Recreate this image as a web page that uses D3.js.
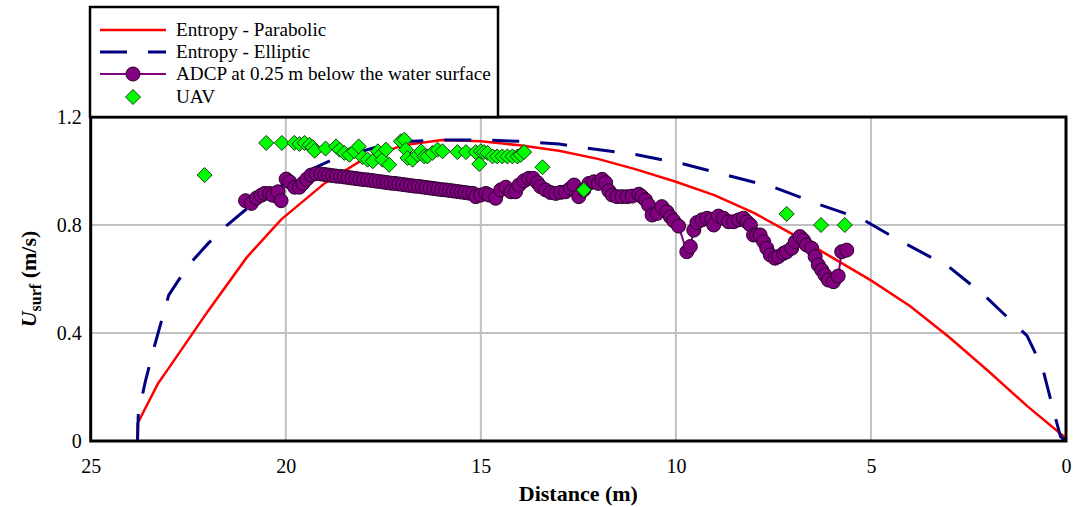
<!DOCTYPE html>
<html>
<head>
<meta charset="utf-8">
<script src="https://cdn.jsdelivr.net/npm/d3@7"></script>
<style>
  body { margin: 0; background: #fff; }
  text { font-family: "Liberation Serif", "Times New Roman", serif; fill: #000; }
</style>
</head>
<body>
<svg width="1087" height="507"></svg>
<script>
const width = 1087;
const height = 507;

// x ticks (distance, m) and y ticks (velocity, m/s)
const xTicks = [25, 20, 15, 10, 5, 0];
const yTicks = [0, 0.4, 0.8, 1.2];

// entropy model, parabolic  [distance, velocity]
const parabolic = [
    [23.8, 0], [23.8, 0.065], [23.27, 0.214], [23, 0.27], [22, 0.48], [21, 0.68],
    [20.12, 0.82], [19, 0.955], [18, 1.045], [17, 1.095], [16, 1.115], [15, 1.11],
    [14, 1.095], [13, 1.075], [12, 1.045], [11, 1.005], [10, 0.96], [9, 0.91],
    [8, 0.845], [7, 0.765], [6, 0.68], [5, 0.595], [4, 0.5], [3, 0.385],
    [2, 0.26], [1, 0.13], [0, 0.01]
];

// entropy model, elliptic
const elliptic = [
    [23.8, 0], [23.78, 0.1], [23.6, 0.22], [23.35, 0.36], [23, 0.54], [22.5, 0.65],
    [22, 0.73], [21.5, 0.8], [21, 0.86], [20.5, 0.91], [20, 0.955], [19.44, 1.0],
    [18.83, 1.04], [18, 1.075], [17.5, 1.096], [17, 1.108], [16, 1.115], [15, 1.115],
    [14, 1.11], [13, 1.1], [12.3, 1.085], [11, 1.06], [9.8, 1.026], [8.7, 0.985],
    [7.5, 0.94], [6.3, 0.875], [5.2, 0.82], [4.3, 0.745], [3, 0.645], [2.1, 0.54],
    [1, 0.39], [0.6, 0.27], [0.29, 0.096], [0.14, 0.016], [0, 0]
];

// ADCP at 0.25 m below the water surface
const adcp = [
    [21.03, 0.89], [20.88, 0.88], [20.75, 0.9], [20.63, 0.91], [20.54, 0.917],
    [20.41, 0.917], [20.33, 0.91], [20.2, 0.923], [20.12, 0.89], [19.99, 0.97],
    [19.9, 0.96], [19.77, 0.94], [19.65, 0.94], [19.56, 0.954], [19.46, 0.97],
    [19.35, 0.985], [19.22, 0.99], [19.1, 0.989], [19.0, 0.987], [18.9, 0.985],
    [18.8, 0.983], [18.7, 0.981], [18.6, 0.98], [18.5, 0.978], [18.4, 0.976],
    [18.3, 0.974], [18.2, 0.972], [18.1, 0.97], [18.0, 0.968], [17.9, 0.967],
    [17.8, 0.965], [17.7, 0.963], [17.6, 0.961], [17.5, 0.959], [17.4, 0.957],
    [17.3, 0.955], [17.2, 0.954], [17.1, 0.952], [17.0, 0.95], [16.9, 0.948],
    [16.8, 0.946], [16.7, 0.944], [16.6, 0.943], [16.5, 0.941], [16.4, 0.939],
    [16.3, 0.937], [16.2, 0.935], [16.1, 0.933], [16.0, 0.931], [15.9, 0.93],
    [15.8, 0.928], [15.7, 0.926], [15.6, 0.924], [15.5, 0.922], [15.4, 0.92],
    [15.3, 0.918], [15.2, 0.917], [15.13, 0.905], [15.0, 0.911], [14.87, 0.917],
    [14.79, 0.911], [14.62, 0.899], [14.49, 0.93], [14.36, 0.94], [14.23, 0.923],
    [14.11, 0.923], [14.02, 0.948], [13.89, 0.964], [13.77, 0.973], [13.66, 0.973],
    [13.55, 0.957], [13.47, 0.942], [13.34, 0.93], [13.21, 0.92], [13.08, 0.917],
    [12.95, 0.921], [12.83, 0.923], [12.7, 0.936], [12.61, 0.948], [12.49, 0.905],
    [12.36, 0.93], [12.23, 0.954], [12.1, 0.96], [11.99, 0.954], [11.89, 0.969],
    [11.8, 0.957], [11.72, 0.927], [11.63, 0.911], [11.51, 0.905], [11.38, 0.905],
    [11.25, 0.905], [11.12, 0.907], [10.95, 0.914], [10.87, 0.905], [10.78, 0.893],
    [10.7, 0.874], [10.61, 0.837], [10.48, 0.843], [10.36, 0.868], [10.23, 0.849],
    [10.14, 0.83], [10.06, 0.816], [9.93, 0.796], [9.72, 0.701], [9.63, 0.72],
    [9.54, 0.781], [9.46, 0.809], [9.33, 0.819], [9.2, 0.825], [9.08, 0.821],
    [9.03, 0.8], [8.91, 0.833], [8.78, 0.825], [8.65, 0.812], [8.52, 0.812],
    [8.39, 0.819], [8.27, 0.825], [8.18, 0.812], [8.09, 0.8], [8.01, 0.763],
    [7.93, 0.763], [7.84, 0.763], [7.75, 0.738], [7.67, 0.714], [7.58, 0.689],
    [7.46, 0.677], [7.37, 0.683], [7.24, 0.695], [7.16, 0.701], [7.03, 0.714],
    [6.94, 0.738], [6.82, 0.757], [6.73, 0.744], [6.65, 0.726], [6.52, 0.714],
    [6.43, 0.683], [6.35, 0.652], [6.26, 0.633], [6.18, 0.615], [6.09, 0.596],
    [5.96, 0.59], [5.84, 0.611], [5.75, 0.701], [5.62, 0.707]
];

// UAV surface velocity
const uav = [
    [22.08, 0.985], [20.5, 1.104], [20.1, 1.104], [19.78, 1.104], [19.65, 1.1],
    [19.52, 1.104], [19.39, 1.097], [19.31, 1.088], [19.26, 1.075], [18.98, 1.083],
    [18.71, 1.091], [18.62, 1.079], [18.5, 1.067], [18.37, 1.06], [18.24, 1.073],
    [18.13, 1.091], [18.03, 1.051], [17.9, 1.042], [17.77, 1.036], [17.64, 1.073],
    [17.56, 1.06], [17.52, 1.042], [17.43, 1.079], [17.35, 1.023], [17.05, 1.11],
    [16.96, 1.116], [16.92, 1.079], [16.88, 1.048], [16.75, 1.042], [16.62, 1.06],
    [16.53, 1.073], [16.45, 1.054], [16.37, 1.054], [16.24, 1.067], [16.11, 1.079],
    [15.98, 1.073], [15.6, 1.07], [15.38, 1.07], [15.13, 1.07], [15.04, 1.026],
    [15.0, 1.073], [14.92, 1.07], [14.83, 1.067], [14.7, 1.054], [14.58, 1.054],
    [14.45, 1.054], [14.32, 1.054], [14.19, 1.054], [14.06, 1.054], [13.98, 1.06],
    [13.89, 1.07], [13.42, 1.014], [12.36, 0.93], [7.16, 0.841], [6.28, 0.8],
    [5.67, 0.8]
];

const legendItems = [
    "Entropy - Parabolic",
    "Entropy - Elliptic",
    "ADCP at 0.25 m below the water surface",
    "UAV"
];

const plot = { left: 90.7, right: 1066, top: 117, bottom: 441 };

const svg = d3.select("svg");

svg.append("rect")
    .attr("width", width)
    .attr("height", height)
    .attr("fill", "#fff");

// scales
const x = d3.scaleLinear()
    .domain([25, 0])
    .range([plot.left, plot.right]);

const y = d3.scaleLinear()
    .domain([0, 1.2])
    .range([plot.bottom, plot.top]);

// grid
svg.append("g")
    .selectAll("line")
    .data(xTicks.filter(d => d !== 25 && d !== 0))
    .join("line")
    .attr("x1", d => x(d)).attr("x2", d => x(d))
    .attr("y1", plot.top).attr("y2", plot.bottom)
    .attr("stroke", "#c0c0c0")
    .attr("stroke-width", 2);

svg.append("g")
    .selectAll("line")
    .data(yTicks.filter(d => d !== 0 && d !== 1.2))
    .join("line")
    .attr("x1", plot.left).attr("x2", plot.right)
    .attr("y1", d => y(d)).attr("y2", d => y(d))
    .attr("stroke", "#c0c0c0")
    .attr("stroke-width", 2);

// axes (labels only)
const xAxis = svg.append("g")
    .attr("transform", `translate(0, ${plot.bottom})`)
    .call(d3.axisBottom(x).tickValues(xTicks).tickSize(0).tickPadding(18).tickFormat(d3.format("d")));

const yAxis = svg.append("g")
    .attr("transform", `translate(${plot.left}, 0)`)
    .call(d3.axisLeft(y).tickValues(yTicks).tickSize(0).tickPadding(9).tickFormat(d => d === 0 ? "0" : d3.format(".1f")(d)));

[xAxis, yAxis].forEach(g => {
    g.select(".domain").remove();
    g.selectAll("text")
        .attr("font-family", "'Liberation Serif', 'Times New Roman', serif")
        .attr("font-size", 20)
        .attr("fill", "#000");
});

// model curves
const line = d3.line()
    .x(d => x(d[0]))
    .y(d => y(d[1]));

svg.append("path")
    .datum(parabolic)
    .attr("d", line)
    .attr("fill", "none")
    .attr("stroke", "#ff0000")
    .attr("stroke-width", 2.5);

svg.append("path")
    .datum(elliptic)
    .attr("d", line)
    .attr("fill", "none")
    .attr("stroke", "#000080")
    .attr("stroke-width", 3)
    .attr("stroke-dasharray", "27,21");

// ADCP
svg.append("path")
    .datum(adcp)
    .attr("d", line)
    .attr("fill", "none")
    .attr("stroke", "#800080")
    .attr("stroke-width", 2);

svg.append("g")
    .selectAll("circle")
    .data(adcp)
    .join("circle")
    .attr("cx", d => x(d[0]))
    .attr("cy", d => y(d[1]))
    .attr("r", 7)
    .attr("fill", "#800080")
    .attr("stroke", "#2a002a")
    .attr("stroke-width", 1);

// UAV diamonds
const diamond = "M0,-7.5L7.5,0L0,7.5L-7.5,0Z";

svg.append("g")
    .selectAll("path")
    .data(uav)
    .join("path")
    .attr("d", diamond)
    .attr("transform", d => `translate(${x(d[0])},${y(d[1])})`)
    .attr("fill", "#00ff00")
    .attr("stroke", "#1a3a1a")
    .attr("stroke-width", 1);

// frame
svg.append("rect")
    .attr("x", plot.left)
    .attr("y", plot.top)
    .attr("width", plot.right - plot.left)
    .attr("height", plot.bottom - plot.top)
    .attr("fill", "none")
    .attr("stroke", "#000")
    .attr("stroke-width", 3);

// axis titles
svg.append("text")
    .attr("x", (plot.left + plot.right) / 2)
    .attr("y", 501)
    .attr("text-anchor", "middle")
    .attr("font-size", 22)
    .attr("font-weight", "bold")
    .text("Distance (m)");

const yTitle = svg.append("text")
    .attr("transform", `translate(36, ${(plot.top + plot.bottom) / 2}) rotate(-90)`)
    .attr("text-anchor", "middle")
    .attr("font-size", 22)
    .attr("font-weight", "bold");
yTitle.append("tspan").attr("font-style", "italic").text("U");
yTitle.append("tspan").attr("font-size", 16).attr("dy", 5).text("surf");
yTitle.append("tspan").attr("dy", -5).text(" (m/s)");

// legend
const legend = svg.append("g");

legend.append("rect")
    .attr("x", 90)
    .attr("y", 7)
    .attr("width", 408)
    .attr("height", 110)
    .attr("fill", "#fff")
    .attr("stroke", "#000")
    .attr("stroke-width", 2.5);

const rowY = [30, 52, 74, 97];

legend.append("line")
    .attr("x1", 100).attr("x2", 166)
    .attr("y1", rowY[0]).attr("y2", rowY[0])
    .attr("stroke", "#ff0000").attr("stroke-width", 2.5);

legend.append("line")
    .attr("x1", 100).attr("x2", 166)
    .attr("y1", rowY[1]).attr("y2", rowY[1])
    .attr("stroke", "#000080").attr("stroke-width", 3)
    .attr("stroke-dasharray", "27,21");

legend.append("line")
    .attr("x1", 100).attr("x2", 166)
    .attr("y1", rowY[2]).attr("y2", rowY[2])
    .attr("stroke", "#800080").attr("stroke-width", 2);

legend.append("circle")
    .attr("cx", 133).attr("cy", rowY[2]).attr("r", 7)
    .attr("fill", "#800080").attr("stroke", "#2a002a");

legend.append("path")
    .attr("d", diamond)
    .attr("transform", `translate(133,${rowY[3]})`)
    .attr("fill", "#00ff00").attr("stroke", "#1a3a1a");

legend.selectAll("text.item")
    .data(legendItems)
    .join("text")
    .attr("class", "item")
    .attr("x", 176)
    .attr("y", (d, i) => rowY[i] + 6)
    .attr("font-size", 19.2)
    .text(d => d);
</script>
</body>
</html>
